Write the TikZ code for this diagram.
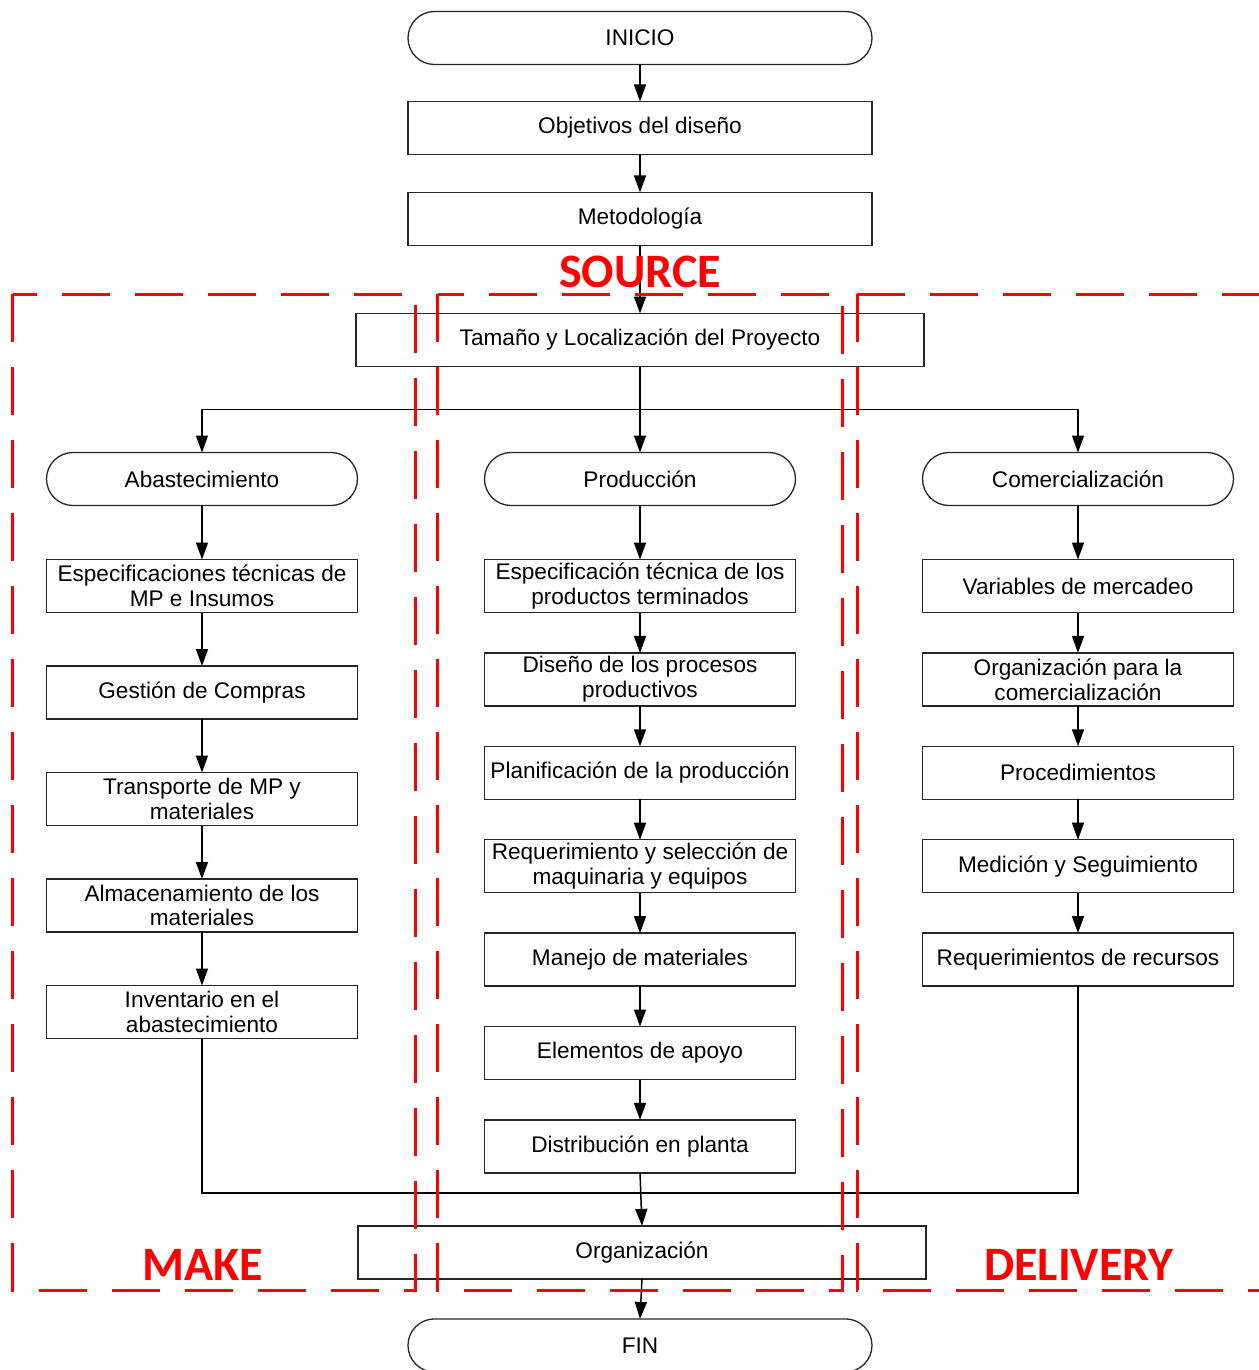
\documentclass[tikz,border=0pt]{standalone}
\usepackage{fontspec}
\setmainfont{Liberation Sans}
\newfontfamily\zonefont{Carlito}
\usetikzlibrary{positioning,arrows.meta}
\tikzset{
  process/.style={draw=black!85, line width=0.65pt, rectangle, align=center, font=\fontsize{11.3}{12.4}\selectfont, minimum height=26.5pt, inner sep=1pt, outer sep=0pt},
  top box/.style={process, minimum width=232pt},
  wide box/.style={process, minimum width=284pt},
  column box/.style={process, minimum width=155.5pt},
  terminal/.style={top box, rounded corners=13.25pt},
  column terminal/.style={column box, rounded corners=13.25pt},
  zone/.style={draw=red, line width=1.5pt, dash pattern=on 24pt off 12.5pt},
  zone label/.style={text=red, inner sep=0pt, font=\zonefont\bfseries\fontsize{24}{24}\selectfont},
}

\begin{document}
\begin{tikzpicture}[>={Triangle[length=8.5pt,width=6pt]}, line width=0.75pt]
\useasboundingbox (-320pt,19pt) rectangle (309pt,-666pt);
% the main line
\node [terminal] (inicio) {INICIO};
\node [top box, below=18.5pt of inicio] (obj) {Objetivos del diseño};
\node [top box, below=19pt of obj] (met) {Metodología};
\node [wide box, below=34pt of met] (tam) {Tamaño y Localización del Proyecto};
% the three columns
\node [column terminal, below=43pt of tam] (prod) {Producción};
\node [column terminal, left=63.5pt of prod] (abas) {Abastecimiento};
\node [column terminal, right=63.5pt of prod] (com) {Comercialización};

\node [column box, below=27pt of abas] (espmp) {Especificaciones técnicas de\\MP e Insumos};
\node [column box, below=26.75pt of espmp] (comp) {Gestión de Compras};
\node [column box, below=26.75pt of comp] (transp) {Transporte de MP y\\materiales};
\node [column box, below=26.75pt of transp] (almac) {Almacenamiento de los\\materiales};
\node [column box, below=26.75pt of almac] (inv) {Inventario en el\\abastecimiento};

\node [column box, below=27pt of prod] (espprod) {Especificación técnica de los\\productos terminados};
\node [column box, below=20.2pt of espprod] (dis) {Diseño de los procesos\\productivos};
\node [column box, below=20.2pt of dis] (plan) {Planificación de la producción};
\node [column box, below=20.2pt of plan] (maq) {Requerimiento y selección de\\maquinaria y equipos};
\node [column box, below=20.2pt of maq] (manejo) {Manejo de materiales};
\node [column box, below=20.2pt of manejo] (apoyo) {Elementos de apoyo};
\node [column box, below=20.2pt of apoyo] (distr) {Distribución en planta};

\node [column box, below=27pt of com] (merc) {Variables de mercadeo};
\node [column box, below=20.2pt of merc] (orgcom) {Organización para la\\comercialización};
\node [column box, below=20.2pt of orgcom] (proc) {Procedimientos};
\node [column box, below=20.2pt of proc] (med) {Medición y Seguimiento};
\node [column box, below=20.2pt of med] (recur) {Requerimientos de recursos};
% the end
\node [wide box, below=26.5pt of distr, xshift=1pt] (org) {Organización};
\node [terminal, below=20pt of org, xshift=-1pt] (fin) {FIN};

\coordinate [below=21.5pt of tam.south] (split);
\coordinate [below=10pt of distr.south] (merge);

%drawings of vectors
\draw[->] (inicio) -- (obj);
\draw[->] (obj) -- (met);
\draw[->] (met) -- (tam);
\draw[->] (tam) -- (prod);
\draw[->] (split) -| (abas.north);
\draw[->] (split) -| (com.north);

\draw[->] (abas) -- (espmp);
\draw[->] (espmp) -- (comp);
\draw[->] (comp) -- (transp);
\draw[->] (transp) -- (almac);
\draw[->] (almac) -- (inv);

\draw[->] (prod) -- (espprod);
\draw[->] (espprod) -- (dis);
\draw[->] (dis) -- (plan);
\draw[->] (plan) -- (maq);
\draw[->] (maq) -- (manejo);
\draw[->] (manejo) -- (apoyo);
\draw[->] (apoyo) -- (distr);

\draw[->] (com) -- (merc);
\draw[->] (merc) -- (orgcom);
\draw[->] (orgcom) -- (proc);
\draw[->] (proc) -- (med);
\draw[->] (med) -- (recur);

\draw (inv.south) |- (merge) -| (recur.south);
\draw[->] (distr.south) -- (org.north);
\draw[->] (org.south) -- (fin.north);

% the zones
\draw[zone] (-313.5pt,-128pt) rectangle (-112pt,-626pt);
\draw[zone] (-101pt,-128pt) rectangle (101pt,-626pt);
\draw[zone] (108.5pt,-128pt) rectangle (316pt,-626pt);
\node [zone label] (source) at (0,-117pt) {SOURCE};
\node [zone label] (make) at (-218.5pt,-613.5pt) {MAKE};
\node [zone label] (delivery) at (219.5pt,-613.5pt) {DELIVERY};

\end{tikzpicture}
\end{document}
